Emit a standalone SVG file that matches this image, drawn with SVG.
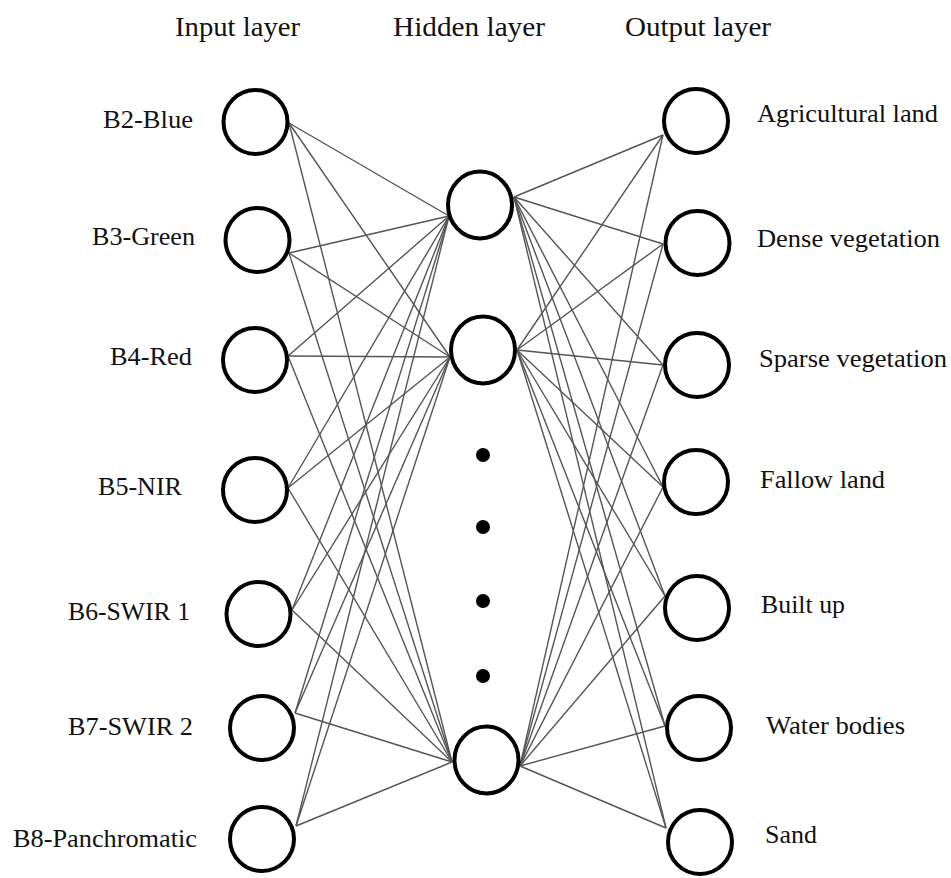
<svg xmlns="http://www.w3.org/2000/svg" width="951" height="878" viewBox="0 0 951 878">
<style>
.node{fill:#fff;stroke:#000;stroke-width:4}
.lbl{font-family:"Liberation Serif","Times New Roman",serif;font-size:25px;fill:#111}
.hdr{font-family:"Liberation Serif","Times New Roman",serif;font-size:28px;fill:#111}
.conn line{stroke:#555;stroke-width:1.4}
.dot{fill:#000}
</style>
<rect width="951" height="878" fill="#fff"/>
<g id="headers">
<text class="hdr" x="175" y="36" textLength="125" lengthAdjust="spacingAndGlyphs">Input layer</text>
<text class="hdr" x="393" y="36" textLength="152" lengthAdjust="spacingAndGlyphs">Hidden layer</text>
<text class="hdr" x="625" y="36" textLength="146" lengthAdjust="spacingAndGlyphs">Output layer</text>
</g>
<g id="connectors" class="conn">
<line x1="289" y1="123" x2="449" y2="216"/><line x1="289" y1="123" x2="450" y2="357"/><line x1="289" y1="123" x2="452" y2="762"/>
<line x1="289" y1="253" x2="449" y2="216"/><line x1="289" y1="253" x2="450" y2="357"/><line x1="289" y1="253" x2="452" y2="762"/>
<line x1="288" y1="356" x2="449" y2="216"/><line x1="288" y1="356" x2="450" y2="357"/><line x1="288" y1="356" x2="452" y2="762"/>
<line x1="288" y1="488" x2="449" y2="216"/><line x1="288" y1="488" x2="450" y2="357"/><line x1="288" y1="488" x2="452" y2="762"/>
<line x1="292" y1="610" x2="449" y2="216"/><line x1="292" y1="610" x2="450" y2="357"/><line x1="292" y1="610" x2="452" y2="762"/>
<line x1="295" y1="713" x2="449" y2="216"/><line x1="295" y1="713" x2="450" y2="357"/><line x1="295" y1="713" x2="452" y2="762"/>
<line x1="296" y1="826" x2="449" y2="216"/><line x1="296" y1="826" x2="450" y2="357"/><line x1="296" y1="826" x2="452" y2="762"/>
<line x1="514" y1="197" x2="663" y2="135"/><line x1="514" y1="197" x2="663" y2="244"/><line x1="514" y1="197" x2="663" y2="365"/><line x1="514" y1="197" x2="663" y2="487"/><line x1="514" y1="197" x2="665" y2="596"/><line x1="514" y1="197" x2="665" y2="726"/><line x1="514" y1="197" x2="666" y2="828"/>
<line x1="517" y1="350" x2="663" y2="135"/><line x1="517" y1="350" x2="663" y2="244"/><line x1="517" y1="350" x2="663" y2="365"/><line x1="517" y1="350" x2="663" y2="487"/><line x1="517" y1="350" x2="665" y2="596"/><line x1="517" y1="350" x2="665" y2="726"/><line x1="517" y1="350" x2="666" y2="828"/>
<line x1="520" y1="766" x2="663" y2="135"/><line x1="520" y1="766" x2="663" y2="244"/><line x1="520" y1="766" x2="663" y2="365"/><line x1="520" y1="766" x2="663" y2="487"/><line x1="520" y1="766" x2="665" y2="596"/><line x1="520" y1="766" x2="665" y2="726"/><line x1="520" y1="766" x2="666" y2="828"/>
</g>
<g id="in1"><circle class="node" cx="255.5" cy="122" r="32"/><text class="lbl" x="103" y="128" textLength="90" lengthAdjust="spacingAndGlyphs">B2-Blue</text></g>
<g id="in2"><circle class="node" cx="257.5" cy="240" r="32"/><text class="lbl" x="92" y="245" textLength="103" lengthAdjust="spacingAndGlyphs">B3-Green</text></g>
<g id="in3"><circle class="node" cx="255" cy="360" r="32"/><text class="lbl" x="110" y="365" textLength="82" lengthAdjust="spacingAndGlyphs">B4-Red</text></g>
<g id="in4"><circle class="node" cx="255" cy="490" r="32"/><text class="lbl" x="98" y="495" textLength="84" lengthAdjust="spacingAndGlyphs">B5-NIR</text></g>
<g id="in5"><circle class="node" cx="258.5" cy="614" r="32"/><text class="lbl" x="68" y="620" textLength="122" lengthAdjust="spacingAndGlyphs">B6-SWIR 1</text></g>
<g id="in6"><circle class="node" cx="262" cy="728" r="32"/><text class="lbl" x="68" y="735" textLength="125" lengthAdjust="spacingAndGlyphs">B7-SWIR 2</text></g>
<g id="in7"><circle class="node" cx="262" cy="839" r="32"/><text class="lbl" x="13" y="847" textLength="184" lengthAdjust="spacingAndGlyphs">B8-Panchromatic</text></g>
<g id="hid1"><ellipse class="node" cx="480" cy="205" rx="32" ry="33.5"/></g>
<g id="hid2"><ellipse class="node" cx="483" cy="350" rx="32" ry="33.5"/></g>
<g id="hid3"><ellipse class="node" cx="486.5" cy="760" rx="32" ry="33.5"/></g>
<g id="ellipsis"><circle class="dot" cx="483" cy="455" r="7"/><circle class="dot" cx="483" cy="527" r="7"/><circle class="dot" cx="483" cy="601" r="7"/><circle class="dot" cx="483" cy="676" r="7"/></g>
<g id="out1"><circle class="node" cx="696" cy="121" r="32"/><text class="lbl" x="757" y="122" textLength="181" lengthAdjust="spacingAndGlyphs">Agricultural land</text></g>
<g id="out2"><circle class="node" cx="697.5" cy="243" r="32"/><text class="lbl" x="757" y="247" textLength="183" lengthAdjust="spacingAndGlyphs">Dense vegetation</text></g>
<g id="out3"><circle class="node" cx="697" cy="365" r="32"/><text class="lbl" x="759" y="367" textLength="188" lengthAdjust="spacingAndGlyphs">Sparse vegetation</text></g>
<g id="out4"><circle class="node" cx="696" cy="482" r="32"/><text class="lbl" x="760" y="488" textLength="125" lengthAdjust="spacingAndGlyphs">Fallow land</text></g>
<g id="out5"><circle class="node" cx="697" cy="608" r="32"/><text class="lbl" x="761" y="613" textLength="84" lengthAdjust="spacingAndGlyphs">Built up</text></g>
<g id="out6"><circle class="node" cx="699" cy="728" r="32"/><text class="lbl" x="766" y="734" textLength="139" lengthAdjust="spacingAndGlyphs">Water bodies</text></g>
<g id="out7"><circle class="node" cx="700" cy="842" r="32"/><text class="lbl" x="765" y="843" textLength="52" lengthAdjust="spacingAndGlyphs">Sand</text></g>
</svg>
